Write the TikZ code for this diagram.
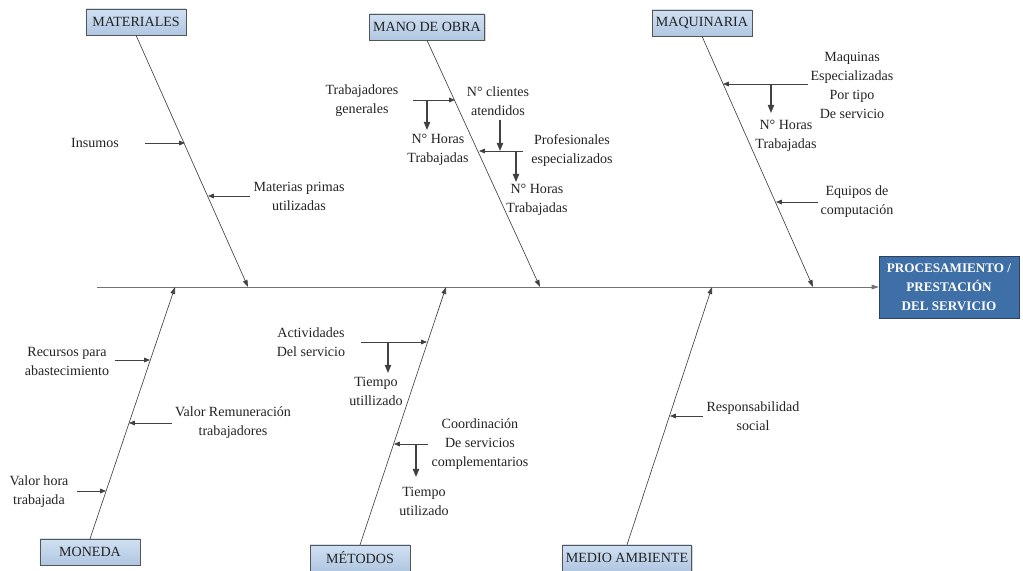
\documentclass[tikz,border=0pt]{standalone}
\usepackage{fontspec}
\setmainfont{Liberation Serif}
\usepackage{tikz}
\usetikzlibrary{arrows.meta, shadows}
\definecolor{boxtop}{RGB}{208,224,242}
\definecolor{boxbottom}{RGB}{176,199,226}
\definecolor{boxedge}{RGB}{85,85,85}
\definecolor{effblue}{RGB}{62,111,166}
\definecolor{effedge}{RGB}{45,65,95}
\definecolor{linegray}{RGB}{65,65,65}
\definecolor{textgray}{RGB}{35,35,35}

\begin{document}
\begin{tikzpicture}[
  x=0.03cm, y=-0.03cm,
  catbox/.style={draw=boxedge, top color=boxtop, bottom color=boxbottom, minimum width=3cm, minimum height=0.78cm, inner xsep=3pt,
    font=\fontsize{12}{14}\selectfont, text=textgray, drop shadow={shadow xshift=1.2pt, shadow yshift=-1.2pt, opacity=0.35}},
  effbox/.style={draw=effedge, fill=effblue, minimum width=4.2cm, minimum height=1.85cm, align=center,
    font=\fontsize{11.2}{16.2}\selectfont\bfseries, text=white, drop shadow={shadow xshift=1.2pt, shadow yshift=-1.2pt, opacity=0.35}},
  lbl/.style={align=center, inner sep=0pt, font=\fontsize{12}{16.2}\selectfont, text=textgray},
  bone/.style={-{Triangle[length=6pt, width=4pt]}, line width=0.55pt, color=linegray},
  cause/.style={-{Triangle[length=5pt, width=4pt]}, line width=0.6pt, color=linegray},
  drop/.style={-{Triangle[length=7pt, width=5.5pt]}, line width=1pt, color=linegray}
]
\useasboundingbox (0,0) rectangle (1023,571);

% Effect and spine
\node[effbox] (eff) at (949,287) {PROCESAMIENTO /\\PRESTACIÓN\\DEL SERVICIO};
\coordinate (tail) at (97,287);
\draw[bone, color=black!55] (tail) -- (eff.west);

% Category boxes
\node[catbox] (mat) at (136,22) {MATERIALES};
\node[catbox] (mano) at (427,27) {MANO DE OBRA};
\node[catbox] (maq) at (702,23) {MAQUINARIA};
\node[catbox] (mon) at (90,552) {MONEDA};
\node[catbox] (met) at (360,558) {MÉTODOS};
\node[catbox] (med) at (627,558) {MEDIO AMBIENTE};

% Bones
\coordinate (matend) at (248,287);
\coordinate (manoend) at (540,287);
\coordinate (maqend) at (813,287);
\coordinate (monend) at (175,287);
\coordinate (metend) at (446,287);
\coordinate (medend) at (712,287);
\draw[bone] (mat.south) -- (matend);
\draw[bone] (mano.south) -- (manoend);
\draw[bone] (maq.south) -- (maqend);
\draw[bone] (mon.north) -- (monend);
\draw[bone] (met.north) -- (metend);
\draw[bone] (med.north) -- (medend);

% Materiales
\node[lbl] (ins) at (95,143) {Insumos};
\node[lbl] (mp) at (299,196) {Materias primas\\utilizadas};
\coordinate (insA) at (145,143);
\coordinate (insB) at (185,143);
\coordinate (mpA) at (250,196);
\coordinate (mpB) at (208,196);
\draw[cause] (insA) -- (insB);
\draw[cause] (mpA) -- (mpB);

% Mano de obra
\node[lbl] (tg) at (362,101) {Trabajadores\\generales};
\node[lbl] (nh1) at (438,150) {N° Horas\\Trabajadas};
\node[lbl] (nca) at (498,101) {N° clientes\\atendidos};
\node[lbl] (pe) at (572,151) {Profesionales\\especializados};
\node[lbl] (nh2) at (537,200) {N° Horas\\Trabajadas};
\coordinate (tgA) at (413,100);
\coordinate (tgB) at (455,100);
\coordinate (tgC) at (427,100);
\coordinate (tgD) at (427,130);
\coordinate (ncaA) at (500,120);
\coordinate (ncaB) at (500,151);
\coordinate (peA) at (523,151);
\coordinate (peB) at (479,151);
\coordinate (peC) at (516,151);
\coordinate (peD) at (516,182);
\draw[cause] (tgA) -- (tgB);
\draw[drop] (tgC) -- (tgD);
\draw[drop] (ncaA) -- (ncaB);
\draw[cause] (peA) -- (peB);
\draw[drop] (peC) -- (peD);

% Maquinaria
\node[lbl] (mq) at (852,85) {Maquinas\\Especializadas\\Por tipo\\De servicio};
\node[lbl] (nh3) at (786,136) {N° Horas\\Trabajadas};
\node[lbl] (eq) at (857,202) {Equipos de\\computación};
\coordinate (mqA) at (808,84);
\coordinate (mqB) at (723,84);
\coordinate (mqC) at (771,84);
\coordinate (mqD) at (771,113);
\coordinate (eqA) at (818,202);
\coordinate (eqB) at (776,202);
\draw[cause] (mqA) -- (mqB);
\draw[drop] (mqC) -- (mqD);
\draw[cause] (eqA) -- (eqB);

% Moneda
\node[lbl] (rec) at (67,361) {Recursos para\\abastecimiento};
\node[lbl] (vr) at (233,423) {Valor Remuneración\\trabajadores};
\node[lbl] (vh) at (39,492) {Valor hora\\trabajada};
\coordinate (recA) at (115,360);
\coordinate (recB) at (150,360);
\coordinate (vrA) at (172,423);
\coordinate (vrB) at (129,423);
\coordinate (vhA) at (77,491);
\coordinate (vhB) at (106,491);
\draw[cause] (recA) -- (recB);
\draw[cause] (vrA) -- (vrB);
\draw[cause] (vhA) -- (vhB);

% Metodos
\node[lbl] (act) at (311,342) {Actividades\\Del servicio};
\node[lbl] (tu1) at (376,391) {Tiempo\\utillizado};
\node[lbl] (coo) at (480,444) {Coordinación\\De servicios\\complementarios};
\node[lbl] (tu2) at (424,501) {Tiempo\\utilizado};
\coordinate (actA) at (361,342);
\coordinate (actB) at (427,342);
\coordinate (actC) at (388,342);
\coordinate (actD) at (388,373);
\coordinate (cooA) at (428,444);
\coordinate (cooB) at (394,444);
\coordinate (cooC) at (416,444);
\coordinate (cooD) at (416,477);
\draw[cause] (actA) -- (actB);
\draw[drop] (actC) -- (actD);
\draw[cause] (cooA) -- (cooB);
\draw[drop] (cooC) -- (cooD);

% Medio ambiente
\node[lbl] (rs) at (753,416) {Responsabilidad\\social};
\coordinate (rsA) at (703,416);
\coordinate (rsB) at (670,416);
\draw[cause] (rsA) -- (rsB);

\end{tikzpicture}
\end{document}
